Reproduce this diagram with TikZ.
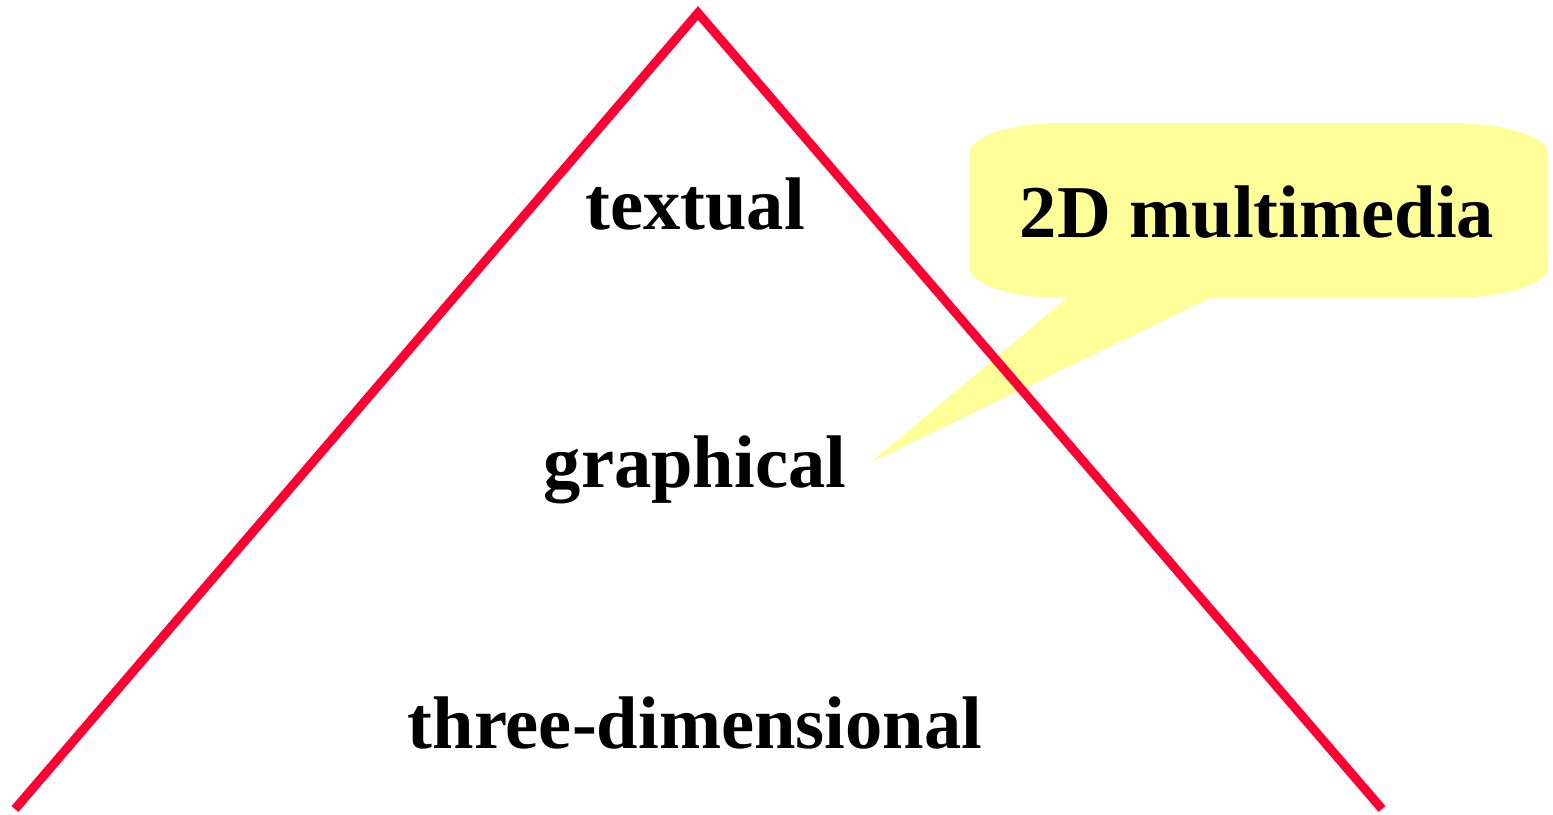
\documentclass[tikz,border=0pt]{standalone}
\usepackage{fontspec}
\setmainfont{Liberation Serif}
\definecolor{tred}{HTML}{FF0033}
\definecolor{cyellow}{HTML}{FFFF99}
\begin{document}
\begin{tikzpicture}[x=0.01cm,y=-0.01cm,
  lbl/.style={anchor=base,inner sep=0pt,font=\fontsize{21.2}{25}\selectfont\bfseries},
  tline/.style={draw=tred,line width=0.09cm,line join=miter}]
\useasboundingbox (0,0) rectangle (1553,815);
% callout
\fill[cyellow] (1062,123) -- (1450,123)
  .. controls (1504,123) and (1548,137) .. (1548,152)
  -- (1548,268)
  .. controls (1548,284) and (1504,298) .. (1450,298)
  -- (1210,298) -- (870,463) -- (1067,298) -- (1062,298)
  .. controls (1010,298) and (970,284) .. (970,268)
  -- (970,152)
  .. controls (970,137) and (1010,123) .. (1062,123) -- cycle;
% triangle
\coordinate (L) at (15,809);
\coordinate (A) at (698,13);
\coordinate (R) at (1382,809);
\draw[tline] (L) -- (A) -- (R);
% labels
\node[lbl] (textual) at (695,229) {textual};
\node[lbl] (graphical) at (695,488) {graphical};
\node[lbl] (three) at (695,748) {three-dimensional};
\node[lbl] (mm) at (1257,237) {2D multimedia};
\end{tikzpicture}
\end{document}
